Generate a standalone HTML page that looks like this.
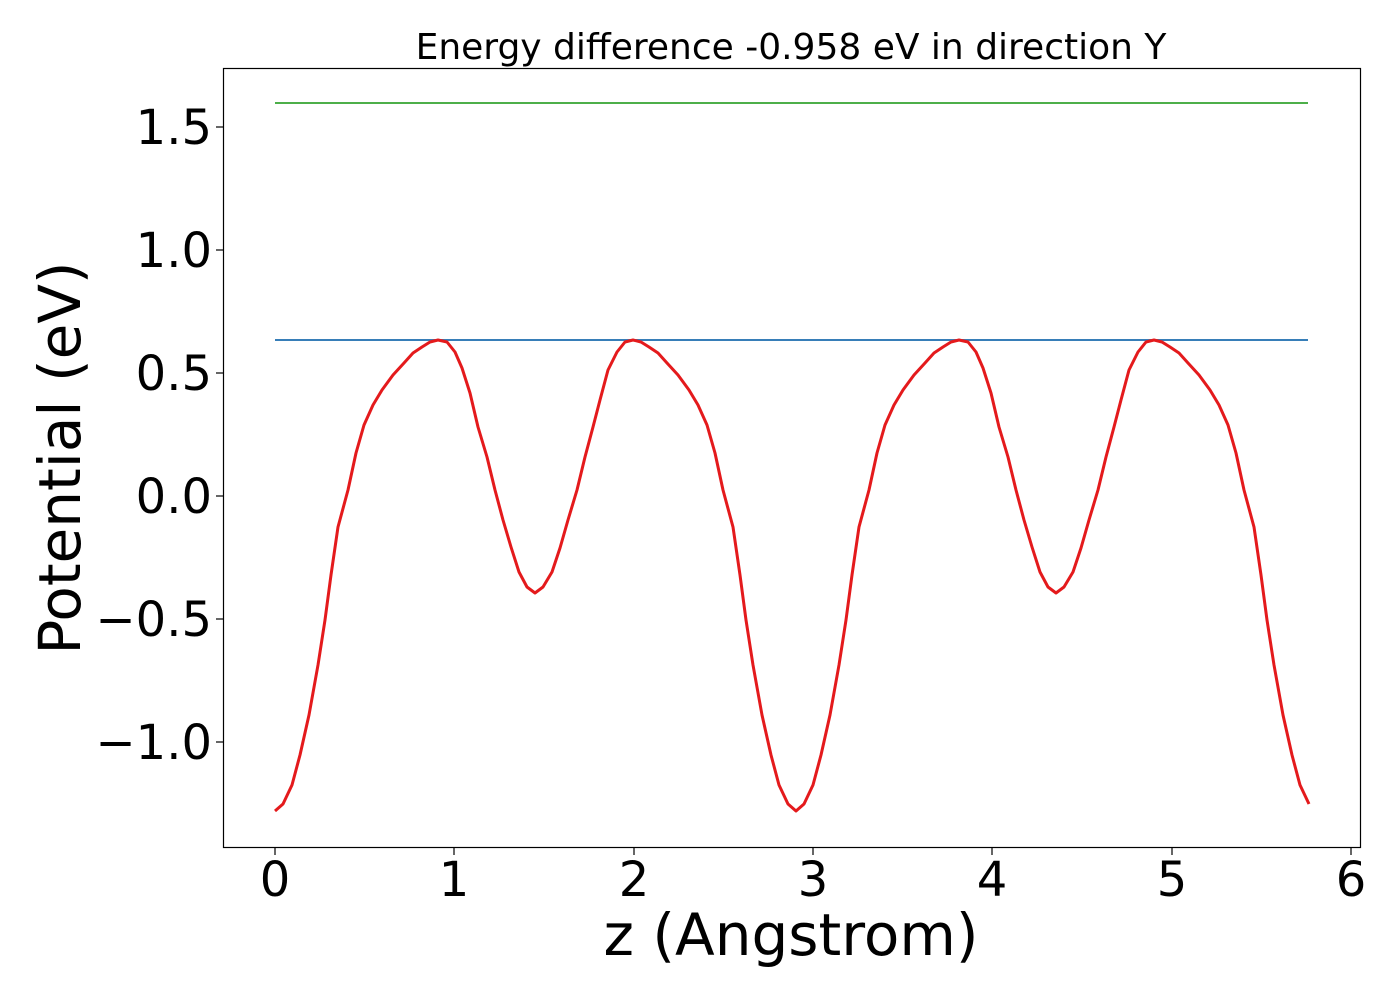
<!DOCTYPE html>
<html><head><meta charset="utf-8"><style>
html,body{margin:0;padding:0;background:#fff;}
svg text{font-family:"DejaVu Sans","Liberation Sans",sans-serif;fill:#000;}
</style></head><body>
<svg id="s" width="1400" height="1000" xmlns="http://www.w3.org/2000/svg">
<rect x="0" y="0" width="1400" height="1000" fill="#fff"/>
<line x1="275" y1="103" x2="1308" y2="103" stroke="#4daf4a" stroke-width="2"/>
<line x1="275" y1="340" x2="1308" y2="340" stroke="#377eb8" stroke-width="2"/>
<polyline id="red" fill="none" stroke="#e41a1c" stroke-width="3" stroke-linejoin="round" points=""/>
<rect x="223.5" y="68.5" width="1137" height="779" fill="none" stroke="#000" stroke-width="1.2"/>
<g stroke="#000" stroke-width="1.2">
<line x1="275" y1="848" x2="275" y2="855"/><line x1="454" y1="848" x2="454" y2="855"/><line x1="634" y1="848" x2="634" y2="855"/><line x1="813" y1="848" x2="813" y2="855"/><line x1="992" y1="848" x2="992" y2="855"/><line x1="1172" y1="848" x2="1172" y2="855"/><line x1="1351" y1="848" x2="1351" y2="855"/>
<line x1="216" y1="127" x2="223" y2="127"/><line x1="216" y1="250" x2="223" y2="250"/><line x1="216" y1="373" x2="223" y2="373"/><line x1="216" y1="496" x2="223" y2="496"/><line x1="216" y1="619" x2="223" y2="619"/><line x1="216" y1="742" x2="223" y2="742"/>
</g>
<g font-size="48" text-anchor="middle">
<text x="275" y="896">0</text><text x="454" y="896">1</text><text x="634" y="896">2</text><text x="813" y="896">3</text><text x="992" y="896">4</text><text x="1172" y="896">5</text><text x="1351" y="896">6</text>
</g>
<g font-size="48" text-anchor="end">
<text x="212" y="144">1.5</text><text x="212" y="267">1.0</text><text x="212" y="390">0.5</text><text x="212" y="513">0.0</text><text x="212" y="636">−0.5</text><text x="212" y="759">−1.0</text>
</g>
<text x="791" y="59" font-size="36" text-anchor="middle">Energy difference -0.958 eV in direction Y</text>
<text x="791" y="955" font-size="58" text-anchor="middle">z (Angstrom)</text>
<text transform="translate(80,458) rotate(-90)" font-size="58" text-anchor="middle">Potential (eV)</text>
</svg>
<script>
var rise=[[275,811],[283,804],[292,785],[300,755],[309,715],[318,665],[325,620],[331,575],[338,527],[348,490],[356,453],[364,425],[373,405],[382,390],[393,375],[404,363],[413,353],[422,347],[430,342],[438,340]];
var mid=[[447,342],[455,352],[462,368],[470,393],[478,427],[487,457],[495,490],[503,520],[511,547],[519,572],[527,587],[535,593],[543,587],[552,572],[560,548],[568,520],[577,490],[585,457],[593,427],[600,400],[608,370],[617,352],[625,342],[633,340]];
var period=rise.concat(mid);
for(var i=rise.length-2;i>=0;i--){period.push([633+(438-rise[i][0]),rise[i][1]]);}
var pts=period.slice();
for(var j=1;j<period.length;j++){var x=period[j][0]+521;if(x<=1309)pts.push([x,period[j][1]]);}
document.getElementById('red').setAttribute('points',pts.map(function(p){return p[0]+','+p[1];}).join(' '));
</script>
</body></html>
